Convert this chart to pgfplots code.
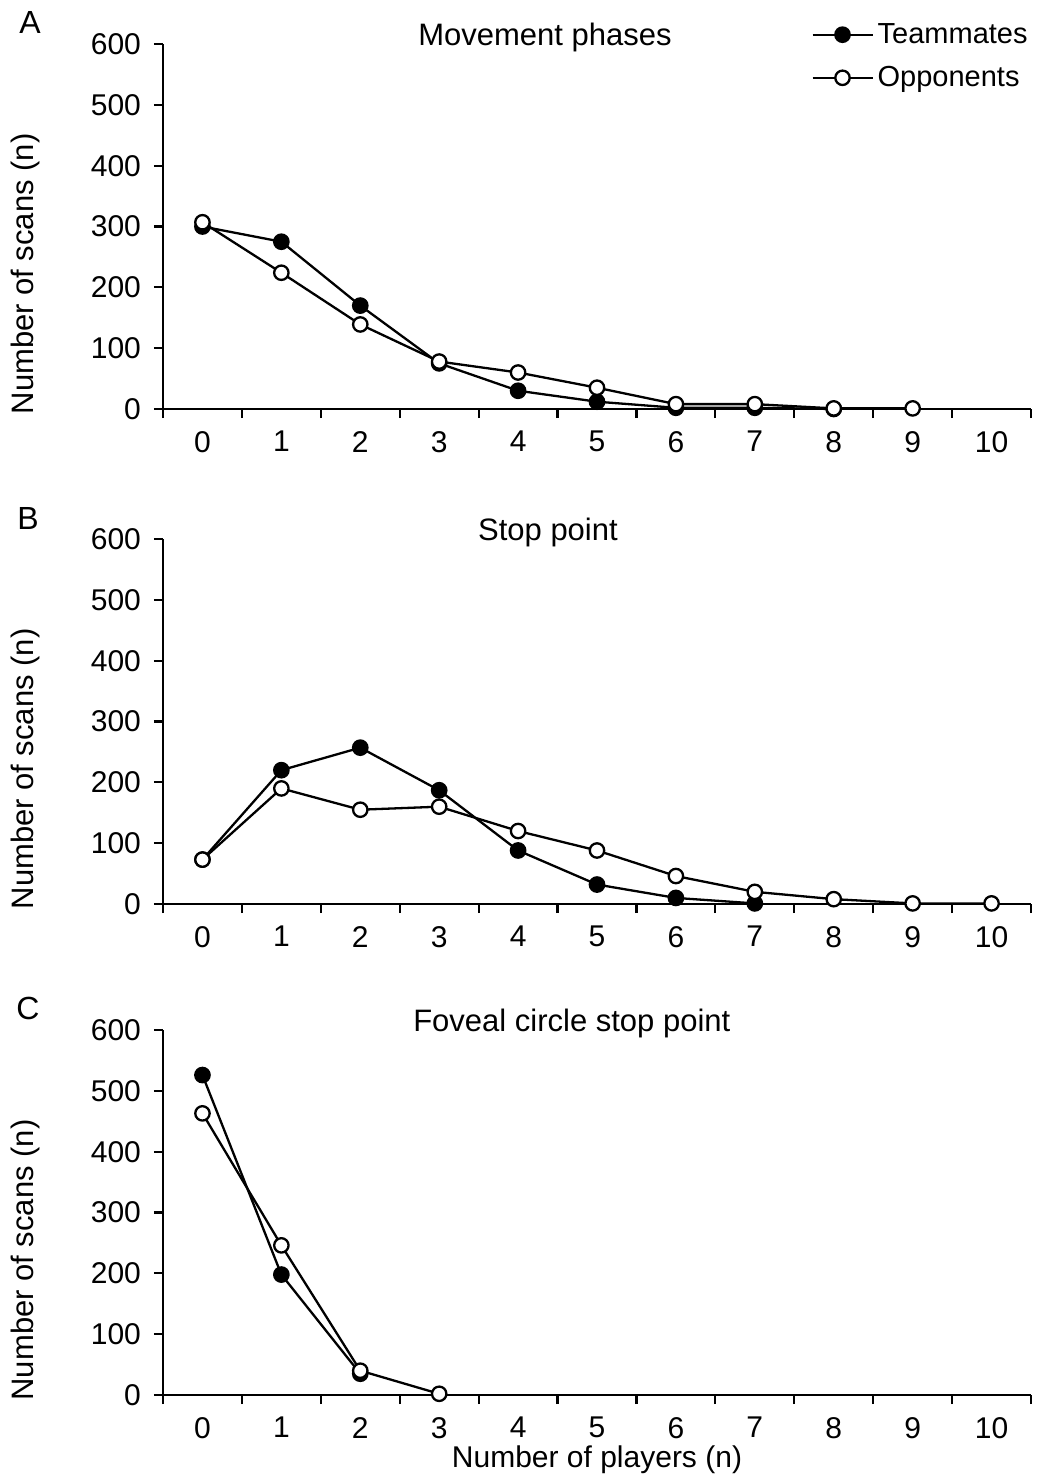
\documentclass[border=0pt]{standalone}
\usepackage{fontspec}
\setmainfont{Liberation Sans}
\usepackage{pgfplots}
\pgfplotsset{compat=1.18}
\begin{document}
\begin{tikzpicture}
\useasboundingbox (0pt,0pt) rectangle (525pt,-738.5pt);
\pgfplotsset{
  panel/.style={
    scale only axis, width=434pt, height=182.5pt, anchor=south west,
    xmin=-0.5, xmax=10.5, ymin=0, ymax=600,
    axis x line=bottom, axis y line=left,
    axis line style={-, line width=1.1pt},
    xtick={-0.5,0.5,...,10.5},
    xticklabels={0,1,2,3,4,5,6,7,8,9,10,{}},
    ytick={0,100,...,600},
    tick align=outside, major tick length=4.5pt,
    every tick/.style={black, line width=1.1pt},
    /pgf/number format/assume math mode=true,
    tick label style={font=\fontsize{15}{18}\selectfont},
    xticklabel style={xshift=19.727pt, yshift=-3pt},
    yticklabel style={xshift=-3pt},
    ylabel={Number of scans (n)},
    ylabel style={at={(axis description cs:-0.159,0.37)}, anchor=center, font=\fontsize{15.5}{18}\selectfont},
    clip=false,
  },
  tm/.style={black, line width=1.15pt, mark=*, mark size=3.6pt, mark options={fill=black}},
  op/.style={black, line width=1.15pt, mark=*, mark size=3.6pt, mark options={fill=white, line width=1.15pt}},
}
% Panel A
\begin{axis}[panel, at={(81.5pt,-204.5pt)},
  legend style={at={(axis description cs:1.008,1.08)}, anchor=north east, draw=none, fill=none,
    font=\fontsize{14.5}{17}\selectfont, row sep=6pt, cells={anchor=west}},
  legend image code/.code={\draw[mark repeat=2,mark phase=2,#1] plot coordinates {(0pt,0pt) (15pt,0pt) (30pt,0pt)};},
]
\addplot[tm] coordinates {(0,300) (1,275) (2,170) (3,75) (4,30) (5,12) (6,2) (7,2) (8,0)};
\addlegendentry{Teammates}
\addplot[op] coordinates {(0,307) (1,224) (2,139) (3,78) (4,60) (5,35) (6,8) (7,8) (8,1) (9,1)};
\addlegendentry{Opponents}
\node[font=\fontsize{15.5}{18}\selectfont] at (rel axis cs:0.44,1.019) {Movement phases};
\end{axis}
% Panel B
\begin{axis}[panel, at={(81.5pt,-452pt)}]
\addplot[tm] coordinates {(0,73) (1,220) (2,257) (3,187) (4,88) (5,32) (6,10) (7,1)};
\addplot[op] coordinates {(0,73) (1,190) (2,155) (3,160) (4,120) (5,88) (6,46) (7,20) (8,8) (9,1) (10,1)};
\node[font=\fontsize{15.5}{18}\selectfont] at (rel axis cs:0.4435,1.019) {Stop point};
\end{axis}
% Panel C
\begin{axis}[panel, at={(81.5pt,-697.5pt)},
  xlabel={Number of players (n)},
  xlabel style={at={(axis description cs:0.5,-0.178)}, anchor=center, font=\fontsize{15}{18}\selectfont},
]
\addplot[tm] coordinates {(0,526) (1,198) (2,35)};
\addplot[op] coordinates {(0,463) (1,246) (2,40) (3,2)};
\node[font=\fontsize{15.5}{18}\selectfont] at (rel axis cs:0.471,1.019) {Foveal circle stop point};
\end{axis}
\node[font=\fontsize{16}{18}\selectfont] at (15pt,-11pt) {A};
\node[font=\fontsize{16}{18}\selectfont] at (14pt,-259pt) {B};
\node[font=\fontsize{16}{18}\selectfont] at (14pt,-504pt) {C};
\end{tikzpicture}
\end{document}
